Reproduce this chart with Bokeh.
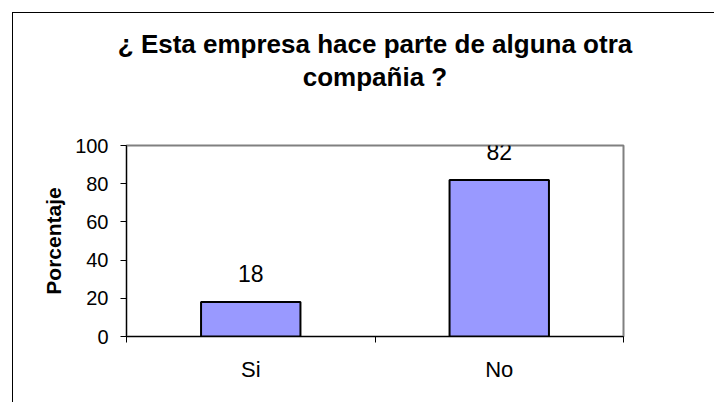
from bokeh.plotting import figure
from bokeh.models import Range1d, FixedTicker, Title, LabelSet, ColumnDataSource
from bokeh.core.properties import value
from bokeh.embed import file_html
from bokeh.resources import INLINE

categories = ["Si", "No"]
porcentaje = [18, 82]
y_ticks = [0, 20, 40, 60, 80, 100]
title_lines = ["¿ Esta empresa hace parte de alguna otra", "compañia ?"]
y_label = "Porcentaje"

FONT = "Liberation Sans"

n = len(categories)
x_pos = [i + 0.5 for i in range(n)]
boundaries = list(range(n + 1))

source = ColumnDataSource(data=dict(x=x_pos, top=porcentaje,
                                    label=[str(v) for v in porcentaje]))

p = figure(width=702, height=390, output_backend="svg", toolbar_location=None,
           x_range=Range1d(0, n), y_range=Range1d(0, 100),
           min_border_left=113, min_border_right=92, min_border_top=132, min_border_bottom=67,
           margin=(12, 0, 0, 12))
p.styles = {"border-top": "1px solid black", "border-left": "1px solid black"}

p.title.visible = False

spacer = Title(text=" ", text_font_size="46px", standoff=0)
p.add_layout(spacer, "above")
t2 = Title(text=title_lines[1], align="center", text_font=FONT, text_font_size="26px",
           text_font_style="bold", text_color="black", standoff=0)
p.add_layout(t2, "above")
t1 = Title(text=title_lines[0], align="center", text_font=FONT, text_font_size="26px",
           text_font_style="bold", text_color="black", standoff=2)
p.add_layout(t1, "above")

p.grid.visible = False
p.background_fill_color = "white"
p.border_fill_color = "white"
p.outline_line_color = "#808080"
p.outline_line_width = 2

p.vbar(x="x", top="top", width=0.4, bottom=0, source=source,
       fill_color="#9999FF", line_color="black", line_width=2)

labels = LabelSet(x="x", y="top", text="label", source=source,
                  text_align="center", text_baseline="alphabetic", y_offset=20,
                  text_font=value(FONT), text_font_size=value("23px"),
                  text_color=value("black"))
p.add_layout(labels)

# x axis
p.xaxis.ticker = FixedTicker(ticks=x_pos, minor_ticks=boundaries)
p.xaxis.major_label_overrides = {x: c for x, c in zip(x_pos, categories)}
p.xaxis.major_tick_line_color = None
p.xaxis.major_tick_out = 0
p.xaxis.major_tick_in = 0
p.xaxis.minor_tick_out = 6
p.xaxis.minor_tick_in = 0
p.xaxis.minor_tick_line_color = "black"
p.xaxis.major_label_standoff = 14
p.xaxis.major_label_text_font = FONT
p.xaxis.major_label_text_font_size = "22px"
p.xaxis.major_label_text_color = "black"
p.xaxis.axis_line_color = "black"

# y axis
p.yaxis.ticker = FixedTicker(ticks=y_ticks)
p.yaxis.minor_tick_line_color = None
p.yaxis.major_tick_out = 6
p.yaxis.major_tick_in = 0
p.yaxis.major_label_standoff = 12
p.yaxis.major_label_text_font = FONT
p.yaxis.major_label_text_font_size = "20px"
p.yaxis.major_label_text_color = "black"
p.yaxis.axis_line_color = "black"
p.yaxis.axis_label = y_label
p.yaxis.axis_label_text_font = FONT
p.yaxis.axis_label_text_font_size = "21px"
p.yaxis.axis_label_text_font_style = "bold"
p.yaxis.axis_label_text_color = "black"
p.yaxis.axis_label_standoff = 7

open("out.html", "w").write(file_html(p, INLINE))
